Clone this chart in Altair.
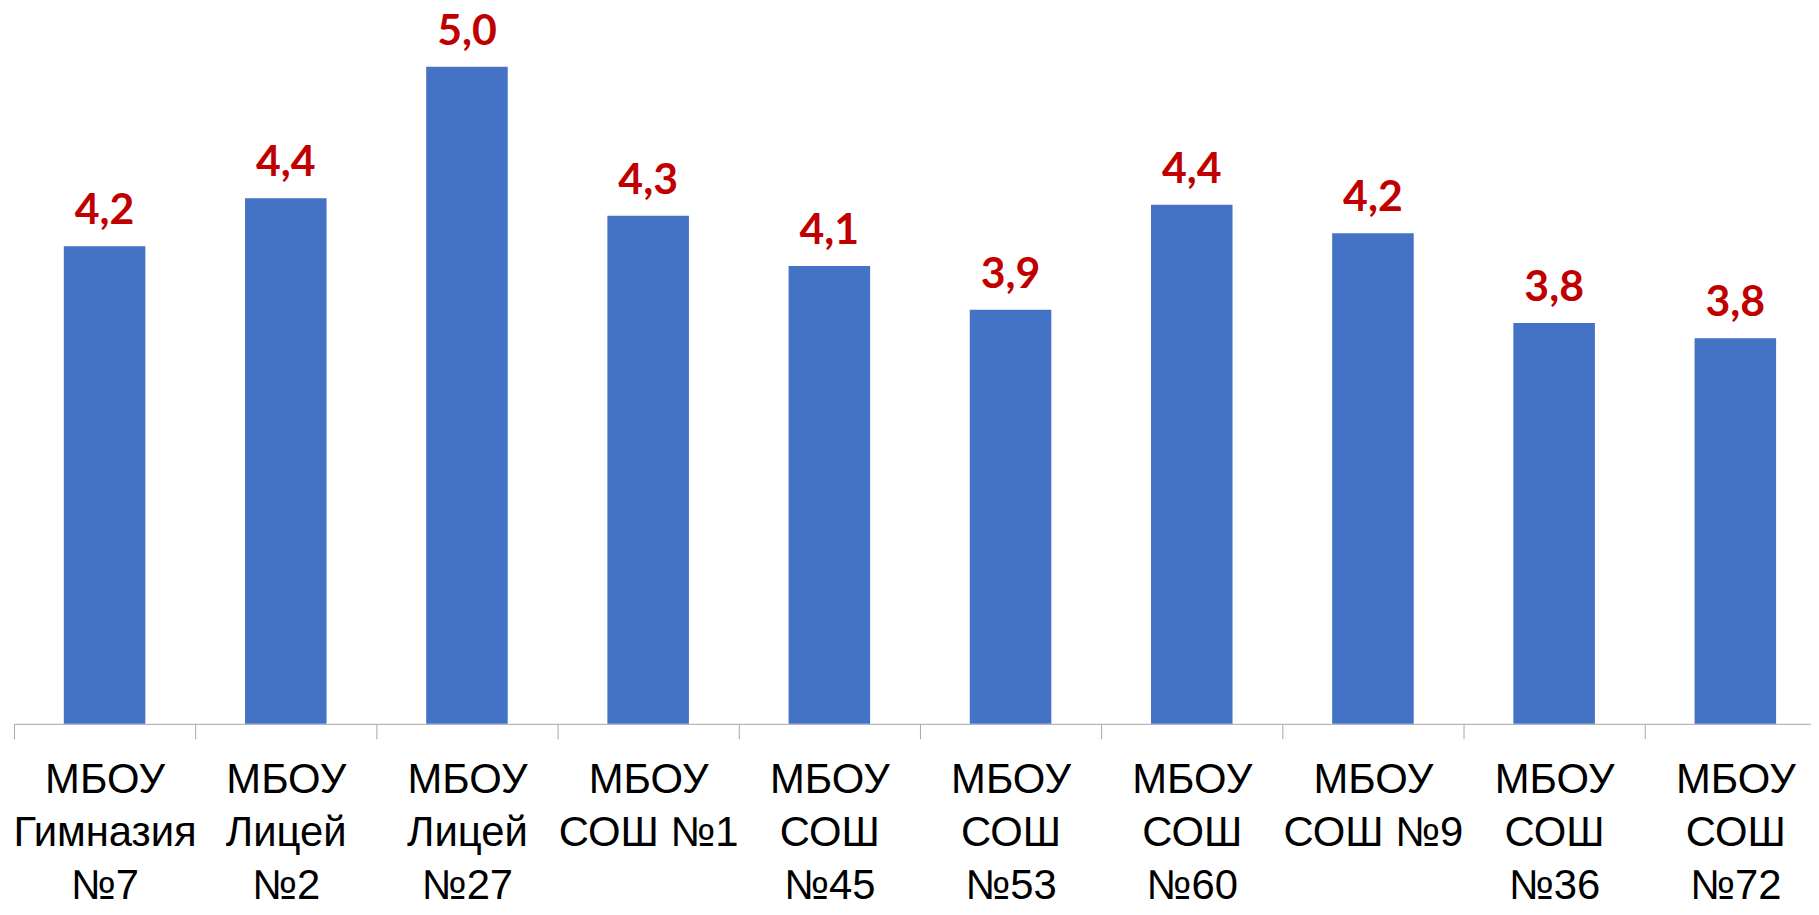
import altair as alt
import pandas as pd

# Categories (line breaks marked with "|")
schools = [
    "МБОУ|Гимназия|№7",
    "МБОУ|Лицей|№2",
    "МБОУ|Лицей|№27",
    "МБОУ|СОШ №1",
    "МБОУ|СОШ|№45",
    "МБОУ|СОШ|№53",
    "МБОУ|СОШ|№60",
    "МБОУ|СОШ №9",
    "МБОУ|СОШ|№36",
    "МБОУ|СОШ|№72",
]
# Average scores
values = [4.18, 4.40, 5.00, 4.32, 4.09, 3.89, 4.37, 4.24, 3.83, 3.76]

df = pd.DataFrame({"school": schools, "value": values})

x_enc = alt.X(
    "school:N",
    sort=schools,
    scale=alt.Scale(range=[0, 1820], paddingInner=0, paddingOuter=0),
    axis=alt.Axis(
        title=None,
        labelExpr="split(datum.label, '|')",
        labelFont="Liberation Sans, Arial, sans-serif",
        labelFontSize=42,
        labelLineHeight=53,
        labelColor="#000000",
        labelAngle=0,
        labelAlign="center",
        labelBaseline="top",
        labelPadding=21,
        labelOverlap=False,
        labelLimit=600,
        tickSize=15,
        tickColor="#a6a6a6",
        domainColor="#a6a6a6",
        tickBand="extent",
        grid=False,
    ),
)
y_scale = alt.Scale(domain=[2, 5.25], zero=False, nice=False)

base = alt.Chart(df).encode(x=x_enc)

bars = base.mark_bar(color="#4472C4", width=alt.RelativeBandSize(0.45)).encode(
    y=alt.Y("value:Q", scale=y_scale, axis=None),
    y2=alt.datum(2),
)

labels = base.transform_calculate(
    label="replace(format(datum.value, '.1f'), '.', ',')"
).mark_text(
    color="#C00000",
    font="Lato",
    fontWeight="bold",
    fontSize=43,
    baseline="alphabetic",
    align="center",
    dy=-22,
).encode(
    y=alt.Y("value:Q", scale=y_scale, axis=None),
    text="label:N",
)

chart = (
    alt.layer(bars, labels)
    .properties(
        width=1805,
        height=715,
        padding={"left": 6, "top": 2, "right": 0, "bottom": 183},
        autosize=alt.AutoSizeParams(type="none"),
        background="white",
    )
    .configure_view(stroke=None)
)

chart.save("out.html", embed_options={"renderer": "svg", "actions": False})
